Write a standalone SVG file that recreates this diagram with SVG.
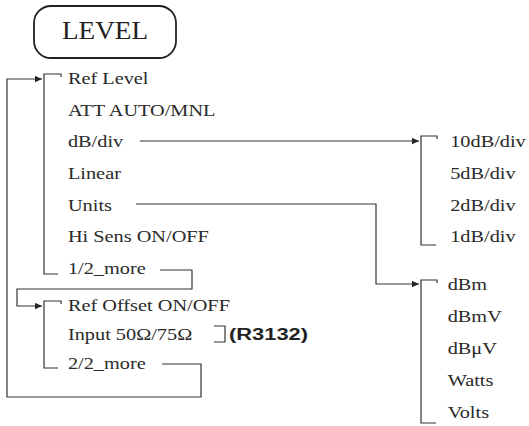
<svg xmlns="http://www.w3.org/2000/svg" width="529" height="426" viewBox="0 0 529 426">
<style>
.t{font-family:"Liberation Serif","Times New Roman",serif;font-size:16px;fill:#2a2a2a}
.b{fill:none;stroke:#333;stroke-width:1.2}
.ln{fill:none;stroke:#333;stroke-width:1.2}
</style>
<defs>
<marker id="ah" viewBox="0 0 10 10" refX="10" refY="5" markerWidth="9" markerHeight="7" markerUnits="userSpaceOnUse" orient="auto"><path d="M0,0.5 L10,5 L0,9.5 z" fill="#222"/></marker>
</defs>
<rect width="529" height="426" fill="#fff"/>
<g id="level">
<rect x="34" y="6" width="142" height="52" rx="17" fill="none" stroke="#222" stroke-width="1.8"/>
<text x="105" y="39" text-anchor="middle" font-family="Liberation Serif, Times New Roman, serif" font-size="25" fill="#222" textLength="86" lengthAdjust="spacingAndGlyphs">LEVEL</text>
</g>
<g id="menu1">
<path class="b" d="M61,77 V74 H44 V274 H58"/>
<g transform="scale(1.27 1)">
<text class="t" x="53.5" y="84">Ref Level</text>
<text class="t" x="53.5" y="116">ATT AUTO/MNL</text>
<text class="t" x="53.5" y="147">dB/div</text>
<text class="t" x="53.5" y="179">Linear</text>
<text class="t" x="53.5" y="211">Units</text>
<text class="t" x="53.5" y="242">Hi Sens ON/OFF</text>
<text class="t" x="53.5" y="274">1/2_more</text>
</g>
</g>
<g id="menu2">
<path class="b" d="M61,304 V301 H44 V368 H58"/>
<g transform="scale(1.27 1)">
<text class="t" x="53.5" y="311">Ref Offset ON/OFF</text>
<text class="t" x="53.5" y="340">Input 50Ω/75Ω</text>
<text class="t" x="53.5" y="369">2/2_more</text>
</g>
<path class="b" d="M214,326 H225 V342 H214"/>
<text x="229" y="340" font-family="Liberation Sans, Arial, sans-serif" font-weight="bold" font-size="16" fill="#222" textLength="79" lengthAdjust="spacingAndGlyphs">(R3132)</text>
</g>
<g id="menu-dbdiv">
<path class="b" d="M437,139 V136 H421 V245 H436"/>
<g transform="scale(1.27 1)">
<text class="t" x="354.5" y="147">10dB/div</text>
<text class="t" x="354.5" y="179">5dB/div</text>
<text class="t" x="354.5" y="211">2dB/div</text>
<text class="t" x="354.5" y="242">1dB/div</text>
</g>
</g>
<g id="menu-units">
<path class="b" d="M437,283 V280 H421 V423 H436"/>
<g transform="scale(1.27 1)">
<text class="t" x="352.5" y="290">dBm</text>
<text class="t" x="352.5" y="322">dBmV</text>
<text class="t" x="352.5" y="354">dBμV</text>
<text class="t" x="352.5" y="386">Watts</text>
<text class="t" x="352.5" y="418">Volts</text>
</g>
</g>
<g id="connectors">
<path class="ln" d="M162,364 H201 V397 H7 V79 H42" marker-end="url(#ah)"/>
<path class="ln" d="M160,270 H192 V289 H17 V306 H42" marker-end="url(#ah)"/>
<path class="ln" d="M140,141 H419" marker-end="url(#ah)"/>
<path class="ln" d="M136,204 H376 V284 H419" marker-end="url(#ah)"/>
</g>
</svg>
